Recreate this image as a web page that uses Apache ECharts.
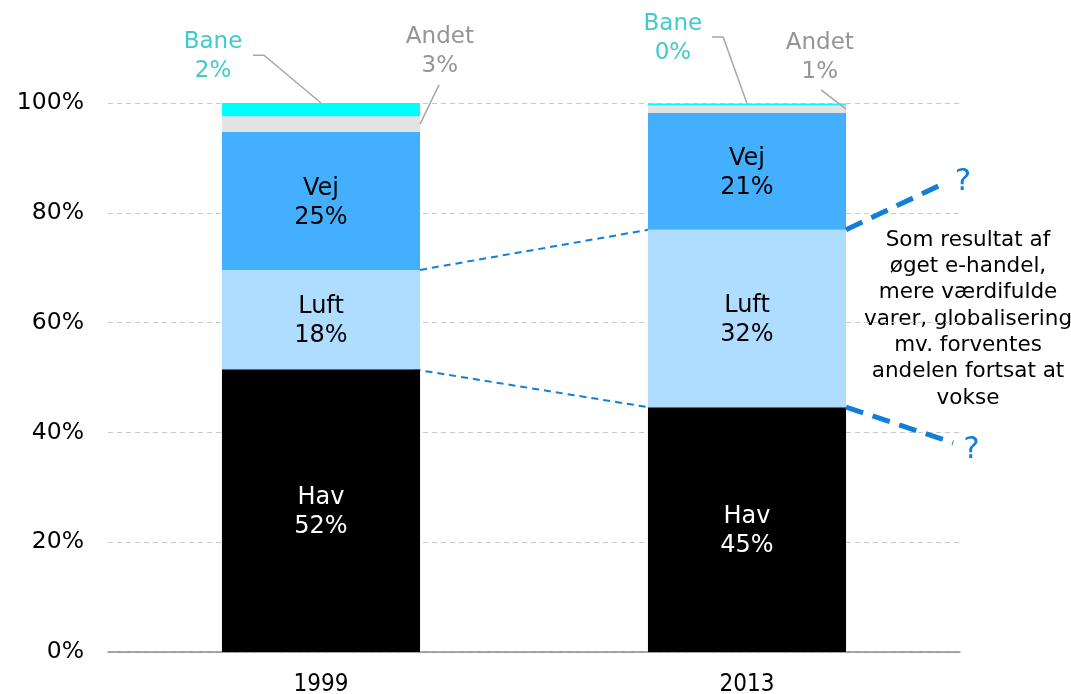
<!DOCTYPE html>
<html><head><meta charset="utf-8">
<script src="https://cdn.jsdelivr.net/npm/echarts@6/dist/echarts.min.js"></script>
<style>html,body{margin:0;padding:0;background:#fff}#c{width:1071px;height:694px}</style>
</head><body><div id="c"></div>
<script>
// ---- data ----
const categories = ['1999', '2013'];
const hav   = [51.5, 44.6];
const luft  = [18.1, 32.3];
const vej   = [25.1, 21.3];
const andet = [2.9, 1.4];
const bane  = [2.4, 0.3];
const yTicks = [0, 20, 40, 60, 80, 100];
// projected continuation end points of the 2013 shares (x on 0..2 category scale, y in %)
const projUpper = [1.969, 85.6];
const projLower = [1.984, 38.1];
const noteText = 'Som resultat af\nøget e-handel,\nmere værdifulde\nvarer, globalisering\nmv. forventes\nandelen fortsat at\nvokse';

// ---- layout / style ----
const FONT = '"DejaVu Sans", Verdana, sans-serif';
const BAR_FRAC = 0.465;
const half = BAR_FRAC / 2;
const cx = [0.5, 1.5];
const pct = v => Math.round(v) + '%';

function barSeries(name, vals, color, textColor, showLabel) {
  return {
    name, type: 'bar', stack: 's', data: vals, barWidth: (BAR_FRAC * 100) + '%',
    itemStyle: { color }, z: 2,
    label: {
      show: showLabel, position: 'inside', color: textColor, fontFamily: FONT,
      fontSize: 24, lineHeight: 29, offset: [0, 2],
      formatter: p => name + '\n' + pct(p.value)
    }
  };
}

function lineSeries(data, color, width, type, z) {
  return {
    type: 'line', xAxisIndex: 1, yAxisIndex: 0, data, clip: false, z: z || 5,
    symbol: 'none', silent: true, animation: false,
    lineStyle: { color, width, type }
  };
}

const cumLuft = [hav[0] + luft[0], hav[1] + luft[1]];
const cumVej = [cumLuft[0] + vej[0], cumLuft[1] + vej[1]];
const cumAndet = [cumVej[0] + andet[0], cumVej[1] + andet[1]];
const total = [cumAndet[0] + bane[0], cumAndet[1] + bane[1]];

const BANE_TXT = '#12BDBD', ANDET_TXT = '#7A7A7A', LEAD = '#A6A6A6', BLUE = '#0F7FDA';

const option = {
  animation: false,
  grid: { left: 108, right: 111, top: 103, bottom: 42, containLabel: false, outerBoundsMode: 'none' },
  xAxis: [
    { type: 'category', data: categories,
      axisLine: { lineStyle: { color: '#8C8C8C', width: 1.5 } }, axisTick: { show: false },
      axisLabel: { color: '#000', fontFamily: '"DejaVu Sans Condensed", "DejaVu Sans", sans-serif', fontSize: 24, margin: 21 } },
    { type: 'value', min: 0, max: 2, show: false }
  ],
  yAxis: [{
    type: 'value', min: 0, max: 100, interval: 20,
    axisLine: { show: false }, axisTick: { show: false },
    axisLabel: { color: '#000', fontFamily: FONT, fontSize: 23.5, margin: 24, formatter: v => yTicks.includes(v) ? v + '%' : '' },
    splitLine: { lineStyle: { color: '#C8C8C8', type: [5, 4], width: 1 } }
  }],
  series: [
    barSeries('Hav', hav, '#000000', '#FFFFFF', true),
    barSeries('Luft', luft, '#AEDDFF', '#000000', true),
    barSeries('Vej', vej, '#45AFFF', '#000000', true),
    barSeries('Andet', andet, '#E3E3E3', '#000', false),
    barSeries('Bane', bane, '#00FFFF', '#000', false),
    // thin connectors between bars
    lineSeries([[cx[0] + half, cumLuft[0]], [cx[1] - half, cumLuft[1]]], BLUE, 2, [7, 5], 1),
    lineSeries([[cx[0] + half - 0.015, hav[0]], [cx[1] - half, hav[1]]], BLUE, 2, [7, 5], 1),
    // thick projections
    Object.assign(lineSeries([[cx[1] + half, cumLuft[1]], projUpper], BLUE, 5, [18, 10], 6), {
      label: { show: true, position: 'right', distance: 8, formatter: (p) => p.dataIndex === 1 ? '?' : '', color: BLUE, fontSize: 31, fontFamily: FONT },
      symbol: 'circle', symbolSize: 0.1, showSymbol: true, itemStyle: { color: 'transparent' }
    }),
    Object.assign(lineSeries([[cx[1] + half, hav[1]], projLower], BLUE, 5, [18, 10], 6), {
      label: { show: true, position: 'right', distance: 10, offset: [0, 7], formatter: (p) => p.dataIndex === 1 ? '?' : '', color: BLUE, fontSize: 31, fontFamily: FONT },
      symbol: 'circle', symbolSize: 0.1, showSymbol: true, itemStyle: { color: 'transparent' }
    }),
    // leader lines for small segments
    lineSeries([[0.3404, 108.7], [0.3662, 108.7], [cx[0], total[0]]], LEAD, 1.5, 'solid', 4),
    lineSeries([[0.777, 103.3], [cx[0] + half, (cumVej[0] + cumAndet[0]) / 2]], LEAD, 1.5, 'solid', 4),
    lineSeries([[1.418, 112.0], [1.444, 112.0], [cx[1], total[1]]], LEAD, 1.5, 'solid', 4),
    lineSeries([[1.674, 102.4], [cx[1] + half, (cumVej[1] + cumAndet[1]) / 2]], LEAD, 1.5, 'solid', 4),
    // outside labels
    {
      type: 'scatter', xAxisIndex: 1, yAxisIndex: 0, clip: false, symbolSize: 0, silent: true,
      data: [
        { value: [0.2465, 108.4], label: { formatter: 'Bane\n' + pct(bane[0]), color: BANE_TXT } },
        { value: [0.779, 109.3], label: { formatter: 'Andet\n' + pct(andet[0]), color: ANDET_TXT } },
        { value: [1.326, 111.8], label: { formatter: 'Bane\n' + pct(bane[1]), color: BANE_TXT } },
        { value: [1.671, 108.2], label: { formatter: 'Andet\n' + pct(andet[1]), color: ANDET_TXT } }
      ],
      label: { show: true, position: 'inside', fontFamily: FONT, fontSize: 23, lineHeight: 29, align: 'center' }
    }
  ],
  graphic: [{
    type: 'text', x: 968, y: 227,
    style: { text: noteText, fill: '#000', font: '21.5px ' + FONT, lineHeight: 26.3, align: 'center', verticalAlign: 'top' }
  }]
};
const chart = echarts.init(document.getElementById('c'), null, { renderer: 'canvas' });
chart.setOption(option);
</script></body></html>
